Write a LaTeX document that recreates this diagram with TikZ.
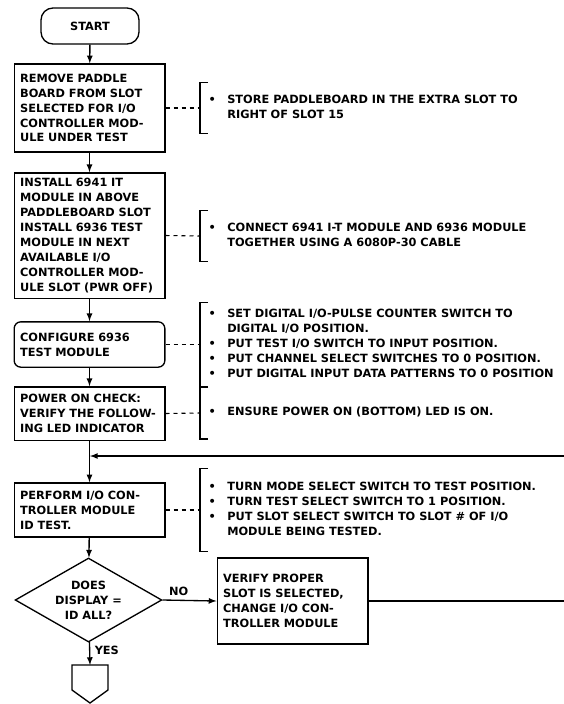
\documentclass[tikz,border=0pt]{standalone}
\usepackage{fontspec}
\setmainfont{DejaVu Sans}
\usetikzlibrary{shapes.geometric}

\begin{document}
\begin{tikzpicture}[>=latex, line width=1pt, x=0.75pt, y=-0.75pt,
  font=\fontsize{8.5}{11.2}\selectfont\bfseries,
  start/.style={draw, rounded corners=9pt, minimum width=73.5pt, minimum height=27pt},
  box/.style={draw, align=left, text width=104pt, inner xsep=4.5pt, minimum height=#1},
  note/.style={anchor=west, inner xsep=6pt, minimum height=#1},
  bracket/.style={line width=0.8pt},
  link/.style={dashed, line width=0.8pt}]
\useasboundingbox (0,0) rectangle (564,704);

\node[start] (start) at (90,26) {START};
\node[box=66pt] (b1) at (89.5,108) {REMOVE PADDLE\\BOARD FROM SLOT\\SELECTED FOR I/O\\CONTROLLER MOD-\\ULE UNDER TEST};
\node[box=94pt] (b2) at (89.5,235.5) {INSTALL 6941 IT\\MODULE IN ABOVE\\PADDLEBOARD SLOT\\INSTALL 6936 TEST\\MODULE IN NEXT\\AVAILABLE I/O\\CONTROLLER MOD-\\ULE SLOT (PWR OFF)};
\node[box=34pt, rounded corners=5pt] (b3) at (89.5,344.5) {CONFIGURE 6936\\TEST MODULE};
\node[box=40pt] (b4) at (89.5,413.5) {POWER ON CHECK:\\VERIFY THE FOLLOW-\\ING LED INDICATOR};
\node[box=40.5pt] (b5) at (89.5,510) {PERFORM I/O CON-\\TROLLER MODULE\\ID TEST.};
\node[draw, diamond, aspect=1.75, inner sep=0pt, minimum width=110pt, minimum height=63pt, align=center] (dec) at (88.5,600) {DOES\\DISPLAY =\\ID ALL?};
\node[box=64.5pt] (fix) at (292.5,601) {VERIFY PROPER\\SLOT IS SELECTED,\\CHANGE I/O CON-\\TROLLER MODULE};

% notes
\node[note=37.5pt] (n1) at (200,108) {\begin{tabular}{@{}p{14pt}@{}l@{}}
\textbullet & STORE PADDLEBOARD IN THE EXTRA SLOT TO\\
 & RIGHT OF SLOT 15\end{tabular}};
\node[note=37.5pt] (n2) at (200,236) {\begin{tabular}{@{}p{14pt}@{}l@{}}
\textbullet & CONNECT 6941 I-T MODULE AND 6936 MODULE\\
 & TOGETHER USING A 6080P-30 CABLE\end{tabular}};
\node[note=59pt] (n3) at (200,344.5) {\begin{tabular}{@{}p{14pt}@{}l@{}}
\textbullet & SET DIGITAL I/O-PULSE COUNTER SWITCH TO\\
 & DIGITAL I/O POSITION.\\
\textbullet & PUT TEST I/O SWITCH TO INPUT POSITION.\\
\textbullet & PUT CHANNEL SELECT SWITCHES TO 0 POSITION.\\
\textbullet & PUT DIGITAL INPUT DATA PATTERNS TO 0 POSITION\end{tabular}};
\node[note=38pt] (n4) at (200,413) {\begin{tabular}{@{}p{14pt}@{}l@{}}
\textbullet & ENSURE POWER ON (BOTTOM) LED IS ON.\end{tabular}};
\node[note=61.5pt] (n5) at (200,510) {\begin{tabular}{@{}p{14pt}@{}l@{}}
\textbullet & TURN MODE SELECT SWITCH TO TEST POSITION.\\
\textbullet & TURN TEST SELECT SWITCH TO 1 POSITION.\\
\textbullet & PUT SLOT SELECT SWITCH TO SLOT \# OF I/O\\
 & MODULE BEING TESTED.\end{tabular}};

\coordinate (off) at (90,665);
\coordinate (join) at (90,456);
\coordinate (back) at (564,456);
\coordinate (out) at (564,601);

% main flow
\draw[->] (start) -- (b1);
\draw[->] (b1) -- (b2);
\draw[->] (b2) -- (b3);
\draw[->] (b3) -- (b4);
\draw[->] (b4) -- (b5);
\draw[->] (b5) -- (dec);
\draw[->] (dec) -- (off) node[pos=0.35,right] {YES};
\draw[->] (dec.east) -- (fix.west) node[pos=0.3,above] {NO};
\draw (fix.east) -- (out);
\draw[->] (back) -- (join);
\draw (off) -- (72,665) -- (72,690) -- (90,703) -- (108,690) -- (108,665) -- cycle;

% annotations
\foreach \b/\n in {b1/n1, b2/n2, b3/n3, b4/n4, b5/n5} {
  \draw[link] (\b.east) -- (\n.west);
  \draw[bracket] ([xshift=6pt]\n.north west) -| (\n.south west) -- ++(6pt,0);
}
\end{tikzpicture}
\end{document}
